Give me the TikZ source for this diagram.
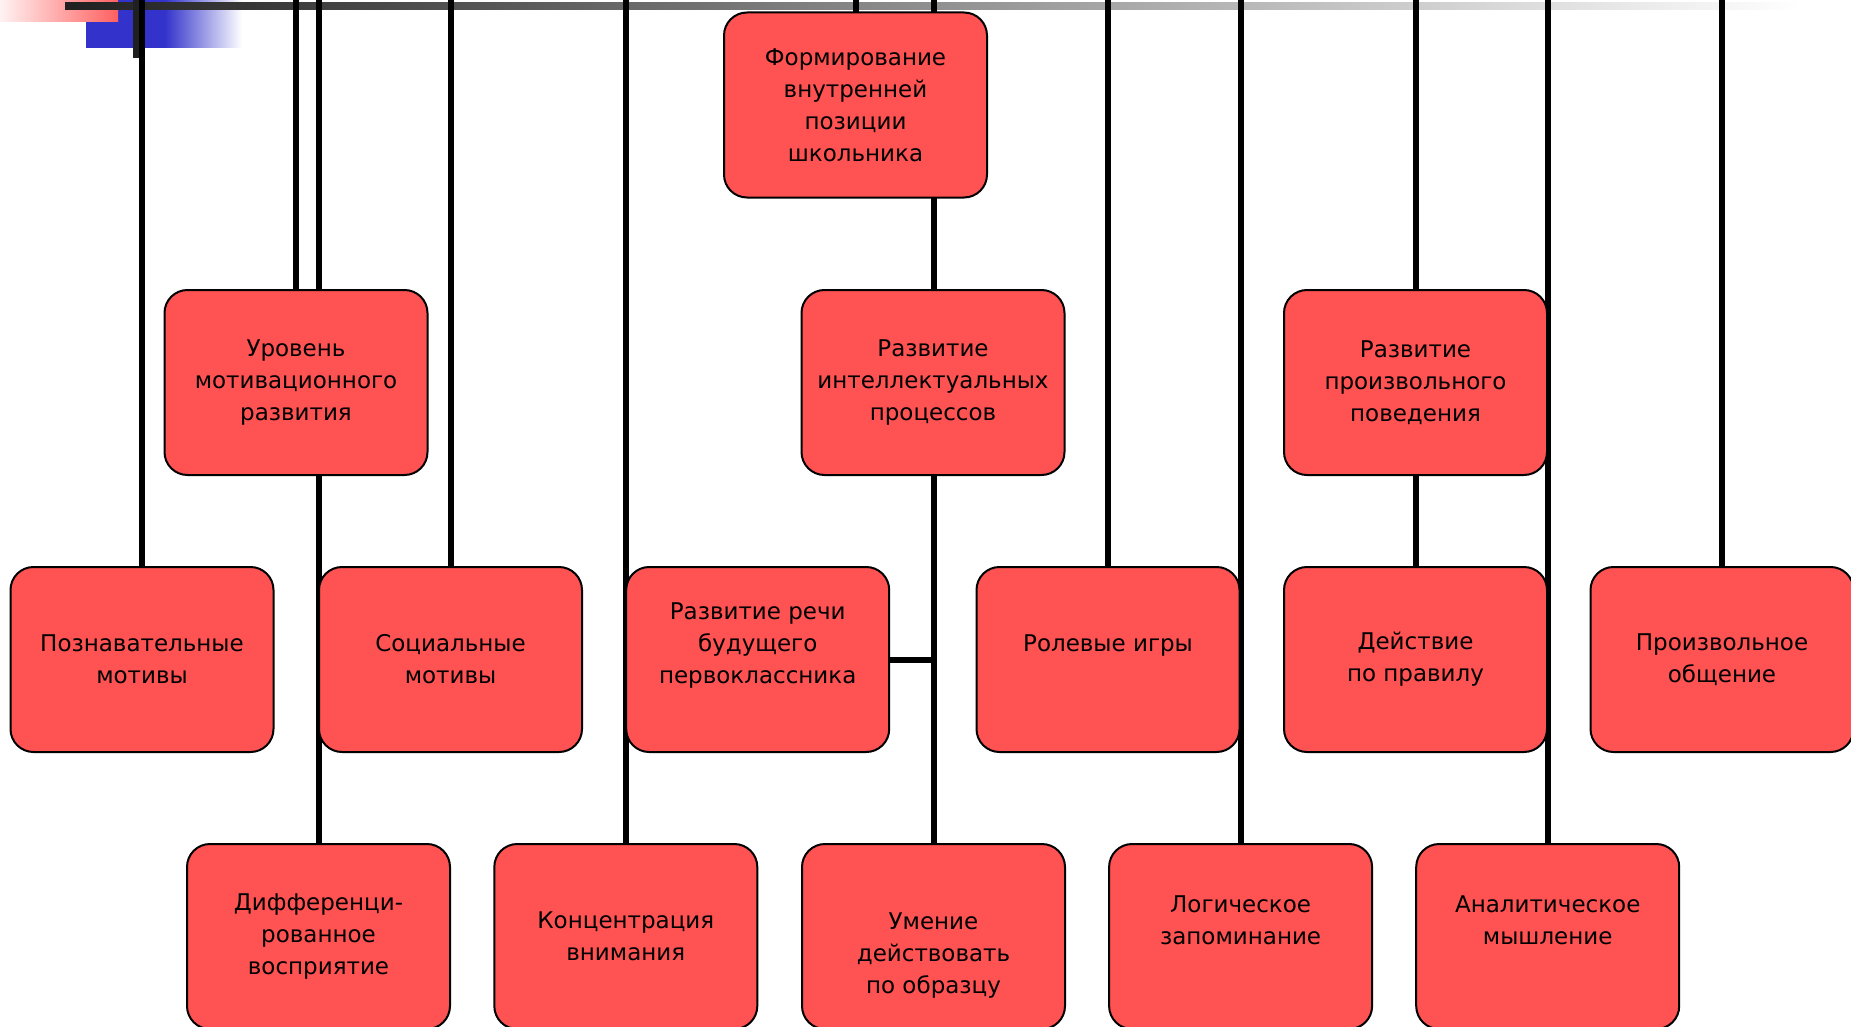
\documentclass[tikz,border=0pt]{standalone}
\usepackage{fontspec}
\setmainfont{DejaVu Sans}
\definecolor{boxred}{HTML}{FF5252}
\definecolor{tplred}{HTML}{FF6060}
\definecolor{tplblue}{HTML}{3333CC}
\definecolor{bardark}{HTML}{202020}
\pgfdeclarelayer{deco}
\pgfdeclarelayer{links}
\pgfsetlayers{deco,links,main}

\begin{document}
\begin{tikzpicture}[x=1pt,y=-1pt,
		box/.style={draw,line width=2pt,fill=boxred,rounded corners=23pt,
			minimum width=263pt,minimum height=185pt,inner sep=0pt,outer sep=0pt,
			align=center,font=\fontsize{23}{32}\selectfont},
		link/.style={line width=6pt}]
				\useasboundingbox (0,0) rectangle (1851,1027);
				\coordinate (top) at (0,0);
				\node[box] (formir) at (855.5,105) {Формирование\\внутренней\\позиции\\школьника};
				\node[box] (uroven) at (296,382.5) {Уровень\\мотивационного\\развития};
				\node[box] (intel) at (933,382.5) {Развитие\\интеллектуальных\\процессов};
				\node[box] (proizv) at (1415.5,382.5) {Развитие\\произвольного\\поведения};
				\node[box] (poznav) at (142,659.5) {Познавательные\\мотивы};
				\node[box] (social) at (450.5,659.5) {Социальные\\мотивы};
				\node[box] (rech) at (757.7,659.5) {Развитие речи\\будущего\\первоклассника\\\mbox{}};
				\node[box] (role) at (1108,659.5) {Ролевые игры\\\mbox{}};
				\node[box] (deyst) at (1415.5,659.5) {Действие\\по правилу};
				\node[box] (obshch) at (1722,659.5) {Произвольное\\общение};
				\node[box] (diff) at (318.5,936.5) {Дифференци-\\рованное\\восприятие};
				\node[box] (konc) at (625.8,936.5) {Концентрация\\внимания};
				\node[box] (umen) at (933.5,936.5) {\strut\\Умение\\действовать\\по образцу};
				\node[box] (logic) at (1240.6,936.5) {Логическое\\запоминание\\\mbox{}};
				\node[box] (anal) at (1547.7,936.5) {Аналитическое\\мышление\\\mbox{}};
				% slide template corner and top bar
				\begin{pgfonlayer}{deco}
					\fill[tplblue] (86,0) rectangle (166,48);
					\shade[left color=tplblue,right color=white] (165,0) rectangle (242,48);
					\shade[left color=tplred!8,right color=tplred] (0,0) rectangle (118,22);
					\shade[left color=bardark,right color=white] (65,3) rectangle (1800,10);
					\fill[bardark] (133,0) rectangle (139,58);
				\end{pgfonlayer}
				% links from the top edge
				\begin{pgfonlayer}{links}
					\foreach \n in {poznav,uroven,diff,social,konc,formir,umen,role,logic,deyst,anal,obshch}
						\draw[link] (\n.north |- top) -- (\n.north);
					\draw[link] (rech.east) -- (rech.east -| umen.north);
				\end{pgfonlayer}
			\end{tikzpicture}
\end{document}
